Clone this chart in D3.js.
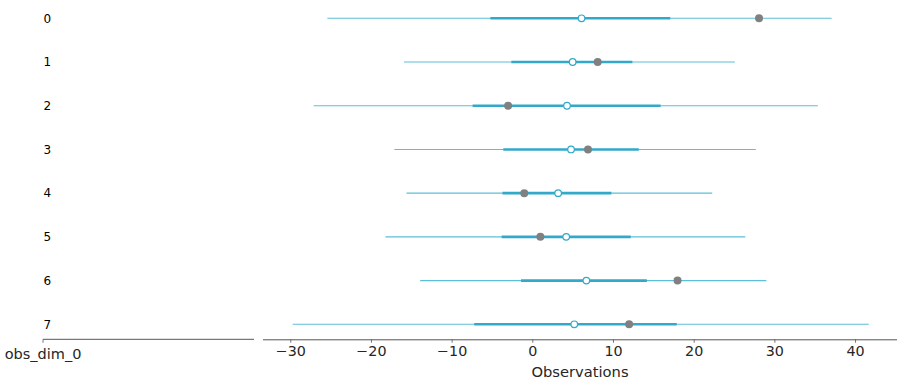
<!DOCTYPE html>
<html>
<head>
<meta charset="utf-8">
<script src="https://cdn.jsdelivr.net/npm/d3@7"></script>
<style>
  html, body { margin: 0; padding: 0; background: #fff; }
  svg { display: block; font-family: "DejaVu Sans", sans-serif; }
</style>
</head>
<body>
<svg id="chart" width="900" height="383"></svg>
<script>
// ---- data ----
const rows      = ["0", "1", "2", "3", "4", "5", "6", "7"];
const hdiLow    = [-25.4, -15.9, -27.1, -17.1, -15.6, -18.2, -13.9, -29.7];
const hdiHigh   = [37.1, 25.1, 35.4, 27.7, 22.3, 26.4, 29.0, 41.7];
const iqrLow    = [-5.2, -2.6, -7.4, -3.6, -3.7, -3.8, -1.4, -7.2];
const iqrHigh   = [17.1, 12.4, 15.9, 13.2, 9.8, 12.2, 14.2, 17.9];
const median    = [6.1, 5.0, 4.3, 4.8, 3.2, 4.2, 6.7, 5.2];
const observed  = [28.1, 8.1, -3.0, 6.9, -1.0, 1.0, 18.0, 12.0];
const xTicks    = [-30, -20, -10, 0, 10, 20, 30, 40];
const xLabel    = "Observations";
const dimLabel  = "obs_dim_0";

const data = rows.map((r, i) => ({
  row: r, lo: hdiLow[i], hi: hdiHigh[i], qlo: iqrLow[i], qhi: iqrHigh[i],
  med: median[i], obs: observed[i]
}));

const svg = d3.select("#chart");
const axisY = 339.3;
const thinColor = "#5dbfd7";
const thickColor = "#33a9c9";
const obsColor = "#808080";
const spineColor = "#555";
const textColor = "#262626";

// scales
const x = d3.scaleLinear().domain([-33.38, 45.2]).range([263, 897]);
const y = d3.scalePoint().domain(rows).range([18.3, 324.3]);

// ---- left (label) panel ----
const left = svg.append("g");
left.append("line")
  .attr("x1", 43).attr("x2", 254).attr("y1", axisY).attr("y2", axisY)
  .attr("stroke", spineColor).attr("stroke-width", 1);
left.append("line")
  .attr("x1", 43).attr("x2", 43).attr("y1", axisY).attr("y2", axisY + 3.5)
  .attr("stroke", spineColor).attr("stroke-width", 0.8);
left.append("text")
  .attr("x", 43).attr("y", 359)
  .attr("text-anchor", "middle")
  .attr("font-size", 14.5).attr("fill", textColor)
  .text(dimLabel);
left.selectAll("text.rowlab").data(data).join("text")
  .attr("class", "rowlab")
  .attr("x", 43.5).attr("y", d => y(d.row))
  .attr("dy", "0.36em")
  .attr("font-size", 12).attr("fill", "#000")
  .text(d => d.row);

// ---- right (plot) panel ----
const xAxis = d3.axisBottom(x).tickValues(xTicks).tickSize(3.5).tickPadding(3.5)
  .tickFormat(d3.format("d"));
const gx = svg.append("g").attr("transform", `translate(0,${axisY})`).call(xAxis);
gx.select(".domain").attr("stroke", spineColor).attr("stroke-width", 1)
  .attr("d", `M263,0.5H897`);
gx.selectAll(".tick line").attr("stroke", spineColor).attr("stroke-width", 0.8);
gx.selectAll(".tick text").attr("font-size", 14.3).attr("fill", textColor)
  .attr("font-family", "DejaVu Sans, sans-serif");

svg.append("text")
  .attr("x", 580).attr("y", 376.5)
  .attr("text-anchor", "middle")
  .attr("font-size", 14.7).attr("fill", textColor)
  .text(xLabel);

const marks = svg.append("g");
marks.selectAll("line.hdi").data(data).join("line")
  .attr("class", "hdi")
  .attr("x1", d => x(d.lo)).attr("x2", d => x(d.hi))
  .attr("y1", d => y(d.row)).attr("y2", d => y(d.row))
  .attr("stroke", thinColor).attr("stroke-width", 1.1);
marks.selectAll("line.iqr").data(data).join("line")
  .attr("class", "iqr")
  .attr("x1", d => x(d.qlo)).attr("x2", d => x(d.qhi))
  .attr("y1", d => y(d.row)).attr("y2", d => y(d.row))
  .attr("stroke", thickColor).attr("stroke-width", 2.6);
marks.selectAll("circle.obs").data(data).join("circle")
  .attr("class", "obs")
  .attr("cx", d => x(d.obs)).attr("cy", d => y(d.row))
  .attr("r", 4).attr("fill", obsColor);
marks.selectAll("circle.med").data(data).join("circle")
  .attr("class", "med")
  .attr("cx", d => x(d.med)).attr("cy", d => y(d.row))
  .attr("r", 3.3).attr("fill", "#fff")
  .attr("stroke", thickColor).attr("stroke-width", 1.2);
</script>
</body>
</html>
